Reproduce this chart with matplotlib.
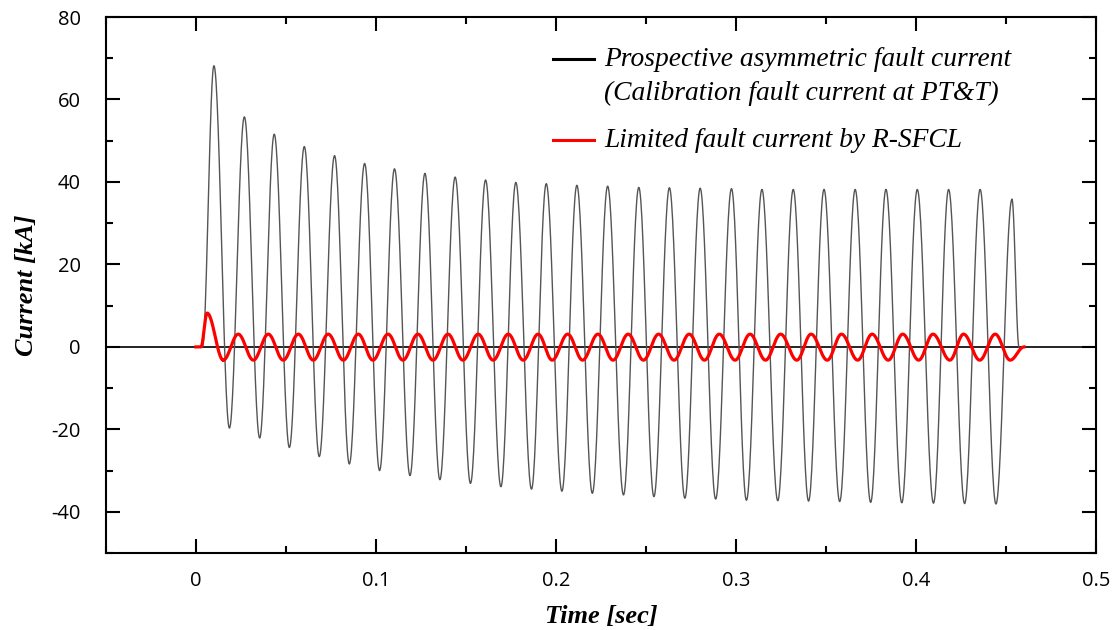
import numpy as np
import matplotlib
matplotlib.use("Agg")
import matplotlib.pyplot as plt
from matplotlib.ticker import MultipleLocator, FuncFormatter
from matplotlib.lines import Line2D

plt.rcParams["axes.unicode_minus"] = False

# prospective current: start, alternating peaks / troughs, end
black_start = (0.0036, 0.0)
black_end = (0.4572, 0.0)
black_peak_t = [0.0100, 0.0269, 0.0435, 0.0602, 0.0770, 0.0937, 0.1103, 0.1272, 0.1440,
                0.1609, 0.1777, 0.1946, 0.2116, 0.2287, 0.2460, 0.2630, 0.2801, 0.2975,
                0.3144, 0.3318, 0.3489, 0.3662, 0.3833, 0.4007, 0.4181, 0.4356, 0.4533]
black_peak_v = [68.2, 55.8, 51.6, 48.6, 46.4, 44.5, 43.2, 42.1, 41.2, 40.5, 39.9, 39.6, 39.2,
                39.0, 38.7, 38.6, 38.5, 38.4, 38.2, 38.2, 38.2, 38.2, 38.2, 38.2, 38.2, 38.2, 35.8]
black_trough_t = [0.0186, 0.0354, 0.0519, 0.0685, 0.0852, 0.1020, 0.1189, 0.1355, 0.1525,
                  0.1694, 0.1864, 0.2033, 0.2202, 0.2375, 0.2544, 0.2716, 0.2887, 0.3058,
                  0.3232, 0.3403, 0.3576, 0.3748, 0.3921, 0.4097, 0.4270, 0.4444]
black_trough_v = [-19.7, -22.1, -24.4, -26.6, -28.4, -30.0, -31.2, -32.2, -33.1, -33.9, -34.5,
                  -35.0, -35.5, -35.9, -36.3, -36.7, -36.9, -37.2, -37.3, -37.4, -37.5, -37.7,
                  -37.8, -37.9, -38.0, -38.1]

# limited current (R-SFCL)
red_start = [(0.0, 0.0), (0.0028, 0.0), (0.0062, 8.2)]
red_end = (0.4600, 0.0)
red_trough_t = [0.0152, 0.0319, 0.0485, 0.0652, 0.0819, 0.0983, 0.1150, 0.1317, 0.1483,
                0.1651, 0.1818, 0.1979, 0.2148, 0.2317, 0.2486, 0.2656, 0.2825, 0.2995,
                0.3164, 0.3338, 0.3507, 0.3676, 0.3846, 0.4015, 0.4188, 0.4354, 0.4523]
red_trough_v = [-3.2, -3.2, -3.2, -3.2, -3.2, -3.2, -3.2, -3.2, -3.2, -3.2, -3.2, -3.2, -3.2,
                -3.2, -3.2, -3.2, -3.2, -3.2, -3.2, -3.2, -3.2, -3.2, -3.2, -3.2, -3.2, -3.2, -3.2]
red_peak_t = [0.0235, 0.0402, 0.0569, 0.0735, 0.0902, 0.1067, 0.1233, 0.1400, 0.1568,
              0.1735, 0.1901, 0.2065, 0.2233, 0.2401, 0.2570, 0.2740, 0.2907, 0.3078,
              0.3248, 0.3417, 0.3586, 0.3756, 0.3926, 0.4094, 0.4264, 0.4440]
red_peak_v = [3.1, 3.1, 3.1, 3.1, 3.1, 3.1, 3.1, 3.1, 3.1, 3.1, 3.1, 3.1, 3.1,
              3.1, 3.1, 3.1, 3.1, 3.1, 3.1, 3.1, 3.1, 3.1, 3.1, 3.1, 3.1, 3.1]


def wave(points, n=30):
    # join the read extrema with half-cosine segments
    ts, vs = [], []
    for (t0, v0), (t1, v1) in zip(points[:-1], points[1:]):
        s = np.linspace(0, 1, n)
        ts.extend(t0 + (t1 - t0) * s)
        vs.extend(v0 + (v1 - v0) * (1 - np.cos(np.pi * s)) / 2)
    return np.array(ts), np.array(vs)


def alternate(first_t, first_v, second_t, second_v):
    out = []
    for i in range(max(len(first_t), len(second_t))):
        if i < len(first_t):
            out.append((first_t[i], first_v[i]))
        if i < len(second_t):
            out.append((second_t[i], second_v[i]))
    return out


black_pts = [black_start] + alternate(black_peak_t, black_peak_v, black_trough_t, black_trough_v) + [black_end]
red_pts = red_start + alternate(red_trough_t, red_trough_v, red_peak_t, red_peak_v) + [red_end]

fig = plt.figure(figsize=(11.15, 6.3), dpi=100)
ax = fig.add_axes([0.095, 0.122, 0.888, 0.851])

ax.axhline(0, color="black", lw=1.2, zorder=1)
tb, vb = wave(black_pts)
ax.plot(tb, vb, color="#555555", lw=1.0, zorder=2)
tr, vr = wave(red_pts)
ax.plot(tr, vr, color="#ff0000", lw=2.3, zorder=3)

ax.set_xlim(-0.05, 0.5)
ax.set_ylim(-50, 80)
ax.xaxis.set_major_locator(MultipleLocator(0.1))
ax.xaxis.set_minor_locator(MultipleLocator(0.05))
ax.yaxis.set_major_locator(MultipleLocator(20))
ax.yaxis.set_minor_locator(MultipleLocator(10))
ax.xaxis.set_major_formatter(FuncFormatter(lambda v, p: f"{v:g}"))
ax.yaxis.set_major_formatter(FuncFormatter(lambda v, p: f"{v:g}"))
ax.tick_params(which="both", direction="in", top=True, right=True, width=1.5)
ax.tick_params(which="major", length=10)
ax.tick_params(which="minor", length=5)
ax.tick_params(axis="x", which="major", pad=13)
ax.tick_params(axis="y", which="major", pad=18)
for lab in ax.get_xticklabels() + ax.get_yticklabels():
    lab.set_fontfamily("Open Sans")
    lab.set_fontsize(14.5)
for sp in ax.spines.values():
    sp.set_linewidth(1.5)

ax.set_xlabel("Time [sec]", family="Liberation Serif", style="italic", weight="bold",
              fontsize=19, labelpad=10)
ax.set_ylabel("Current [kA]", family="Liberation Serif", style="italic", weight="bold",
              fontsize=19, labelpad=10)

# legend drawn by hand so the handle sits on the first text line
leg_font = dict(family="Liberation Serif", style="italic", fontsize=19.8,
                transform=ax.transAxes, va="center", ha="left")
ax.add_line(Line2D([0.4515, 0.493], [0.9216, 0.9216], color="black", lw=2.2,
                   transform=ax.transAxes))
ax.text(0.503, 0.9216, "Prospective asymmetric fault current", **leg_font)
ax.text(0.503, 0.858, "(Calibration fault current at PT&T)", **leg_font)
ax.add_line(Line2D([0.4515, 0.493], [0.7705, 0.7705], color="#ff0000", lw=2.2,
                   transform=ax.transAxes))
ax.text(0.503, 0.7705, "Limited fault current by R-SFCL", **leg_font)

fig.savefig("out.png", dpi=100)
